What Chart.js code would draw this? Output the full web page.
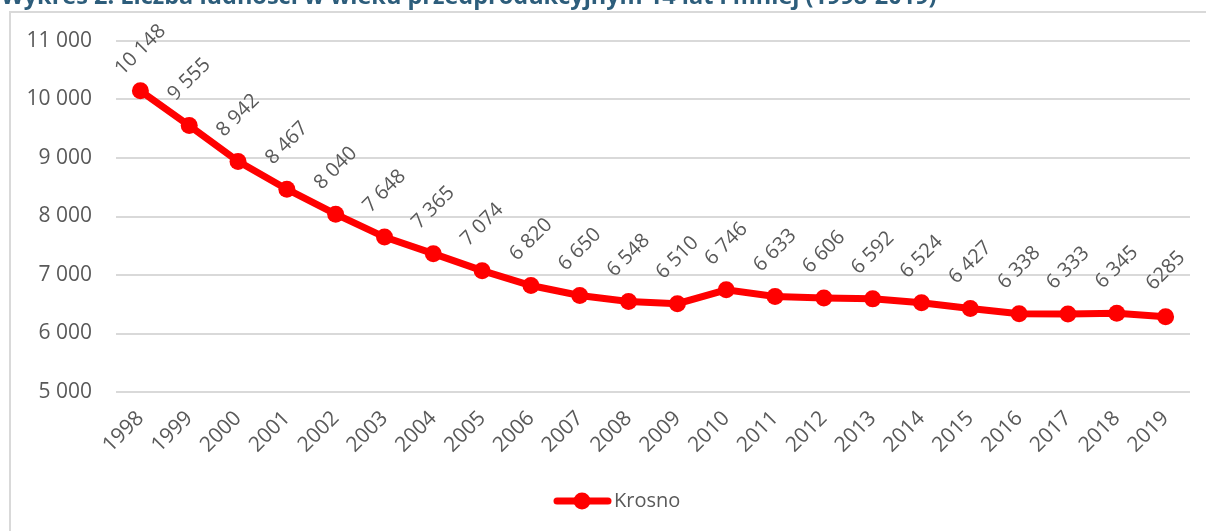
<!DOCTYPE html>
<html>
<head>
<meta charset="utf-8">
<script src="https://cdn.jsdelivr.net/npm/chart.js@4"></script>
<style>
  html, body { margin: 0; padding: 0; background: #fff; overflow: hidden; }
  #wrap { position: relative; width: 1206px; height: 531px; }
</style>
</head>
<body>
<div id="wrap"><canvas id="chart" width="1206" height="531"></canvas></div>
<script>
const years = ['1998','1999','2000','2001','2002','2003','2004','2005','2006','2007','2008',
               '2009','2010','2011','2012','2013','2014','2015','2016','2017','2018','2019'];
const krosno = [10148, 9555, 8942, 8467, 8040, 7648, 7365, 7074, 6820, 6650, 6548,
                6510, 6746, 6633, 6606, 6592, 6524, 6427, 6338, 6333, 6345, 6285];
const pointLabels = ['10 148','9 555','8 942','8 467','8 040','7 648','7 365','7 074','6 820','6 650','6 548',
                     '6 510','6 746','6 633','6 606','6 592','6 524','6 427','6 338','6 333','6 345','6285'];
const seriesName = 'Krosno';
const titleText = 'Wykres 2. Liczba ludności w wieku przedprodukcyjnym 14 lat i mniej (1998-2019)';

const FONT = '"Open Sans", sans-serif';
const TXT = '#595959';
const RED = '#ff0000';

// frame, title, rotated value labels and the legend
const extras = {
    id: 'extras',
    beforeDraw(chart){
        const c = chart.ctx;
        c.save();
        c.strokeStyle = '#d9d9d9';
        c.lineWidth = 2;
        c.beginPath();
        c.moveTo(10, 540); c.lineTo(10, 12); c.lineTo(1220, 12);
        c.stroke();
        c.fillStyle = '#2d5d7b';
        c.font = 'bold 23.5px ' + FONT;
        c.textBaseline = 'alphabetic';
        c.fillText(titleText, 1, 4);
        c.restore();
    },
    afterDatasetsDraw(chart){
        const c = chart.ctx;
        const meta = chart.getDatasetMeta(0);
        c.save();
        c.fillStyle = TXT;
        c.font = '20px ' + FONT;
        c.textAlign = 'center';
        c.textBaseline = 'middle';
        meta.data.forEach((pt, i) => {
            const cy = Math.max(pt.y - 46, 50);
            c.save();
            c.translate(pt.x, cy);
            c.rotate(-Math.PI / 4);
            c.fillText(pointLabels[i], 0, 0);
            c.restore();
        });
        // legend
        const ly = 501;
        c.strokeStyle = RED;
        c.lineWidth = 7;
        c.lineCap = 'round';
        c.beginPath(); c.moveTo(557, ly); c.lineTo(608, ly); c.stroke();
        c.fillStyle = RED;
        c.beginPath(); c.arc(582, ly, 8.5, 0, Math.PI * 2); c.fill();
        c.fillStyle = TXT;
        c.textAlign = 'left';
        c.fillText(seriesName, 614, ly);
        c.restore();
    }
};

new Chart(document.getElementById('chart'), {
    type: 'line',
    data: {
        labels: years,
        datasets: [{
            label: seriesName,
            data: krosno,
            borderColor: RED,
            backgroundColor: RED,
            borderWidth: 7,
            pointRadius: 8.5,
            pointHoverRadius: 8.5,
            pointBackgroundColor: RED,
            pointBorderWidth: 0,
            tension: 0,
            clip: false
        }]
    },
    options: {
        responsive: false,
        animation: false,
        layout: { padding: { left: 9, right: 16, top: 41, bottom: 0 } },
        plugins: { legend: { display: false }, tooltip: { enabled: false } },
        scales: {
            x: {
                offset: true,
                grid: { display: false },
                border: { display: false },
                ticks: {
                    color: TXT, font: { family: FONT, size: 21 },
                    minRotation: 45, maxRotation: 45, padding: 6, autoSkip: false
                },
                afterFit(scale){ scale.height = 139; }
            },
            y: {
                min: 5000, max: 11000,
                grid: { color: '#d9d9d9', lineWidth: 2, drawTicks: false },
                border: { display: false },
                ticks: {
                    stepSize: 1000, padding: 24, color: TXT,
                    font: { family: FONT, size: 21 },
                    callback: v => String(v).replace(/(\d)(\d{3})$/, '$1 $2')
                },
                afterFit(scale){ scale.width = 107; }
            }
        }
    },
    plugins: [extras]
});
</script>
</body>
</html>
